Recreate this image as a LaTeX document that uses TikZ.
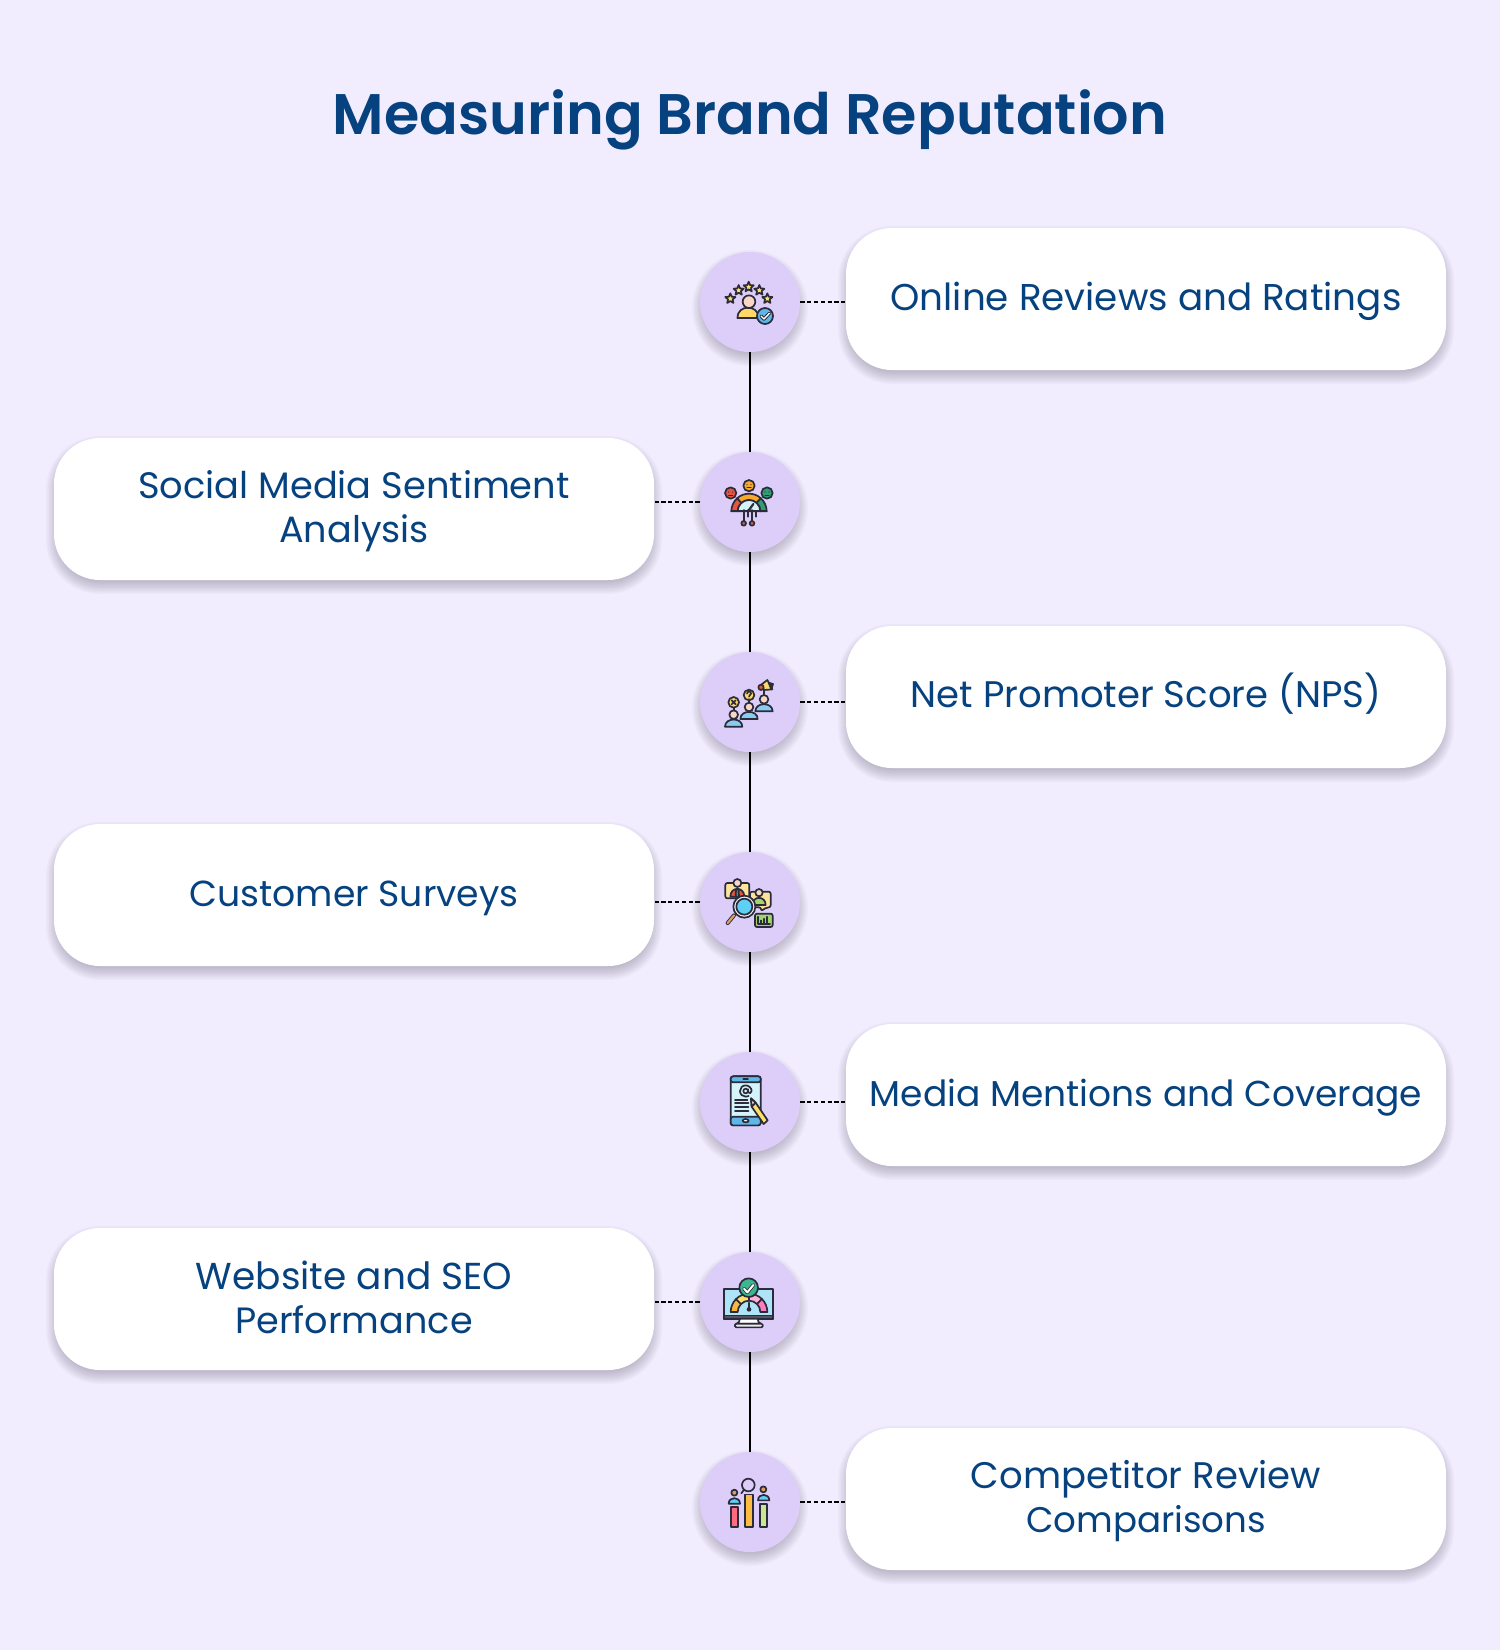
\documentclass[tikz,border=0pt]{standalone}
\usepackage{fontspec}
\setmainfont{Poppins}
\newfontfamily\labf{Poppins}
\newfontfamily\titf{Poppins SemiBold}
\definecolor{bgc}{HTML}{F1ECFE}
\definecolor{circ}{HTML}{DCCEF9}
\definecolor{ink}{HTML}{05427F}
\definecolor{shc}{HTML}{4A4258}
\definecolor{icd}{HTML}{2B2B3B}
\definecolor{pyel}{HTML}{FFD966}
\definecolor{pstar}{HTML}{FFE066}
\definecolor{pskin}{HTML}{F8D7C4}
\definecolor{pblue}{HTML}{5DB8E8}
\definecolor{pred}{HTML}{E8553F}
\definecolor{porg}{HTML}{F7A92B}
\definecolor{pgrn}{HTML}{2F9E72}
\definecolor{ppale}{HTML}{D5F3FA}
\definecolor{psky}{HTML}{88CCF2}
\definecolor{pcream}{HTML}{FFE39A}
\definecolor{plime}{HTML}{A4D46C}
\definecolor{pcyan}{HTML}{5FD0F5}
\definecolor{ptan}{HTML}{D9A066}
\definecolor{pteal}{HTML}{3DB58F}
\definecolor{ppink}{HTML}{FF7DBE}
\definecolor{prose}{HTML}{FF6B81}
\definecolor{ppist}{HTML}{C8E88C}
\definecolor{pscr}{HTML}{AEE4F8}
\tikzset{
  shadowlayer/.style={fill=shc,opacity=.035},
  cardbox/.style={fill=white,rounded corners=23pt,minimum width=300pt,minimum height=71pt,
    align=center,text=ink,font=\labf\fontsize{18.3}{22}\selectfont,inner sep=0pt},
  badge/.style={circle,fill=circ,minimum size=50pt,inner sep=0pt},
  spine/.style={draw=black,line width=1pt},
  dots/.style={draw=black,line width=1pt,dash pattern=on 2.1pt off 1.3pt},
  dotsup/.style={dots,yshift=.65pt},
  ic/.style={draw=icd,line width=.85pt,line join=round,line cap=round},
  izoom/.style={x=0.16667pt,y=-0.16667pt},
}
\newcommand{\sta}{\rule{0pt}{16.1pt}}
\newcommand{\stz}{\rule[-4pt]{0pt}{4pt}}
\newcommand{\stb}{\rule[-7pt]{0pt}{24pt}}
\newcommand{\fs}[1]{\fontsize{#1}{22}\selectfont}
\newcommand{\softcard}[2]{\foreach \k in {-4,-2.5,...,8}
  \fill[shadowlayer,rounded corners={(23+\k*.5)*1pt}] ({#1-300-\k},{#2-71-\k+6}) rectangle ({#1+300+\k},{#2+71+\k+6});}
\newcommand{\softdisc}[2]{\foreach \k in {-4,-2.5,...,8}
  \fill[shadowlayer] (#1,{#2+6}) circle ({50+\k});}
\newcommand{\icdisc}[4]{\draw[ic,fill=#4] (#1,#2) circle (#3);}
\newcommand{\icstar}[3]{\draw[ic,fill=pstar] ([shift={(#1,#2)}]-90:#3)
  \foreach \a/\r in {-54/.45,-18/1,18/.45,54/1,90/.45,126/1,162/.45,198/1,234/.45}{
    -- ([shift={(#1,#2)}]\a:\r*#3) } -- cycle;}
\newcommand{\icbody}[5]{\draw[ic,fill=#5] ({#1-#3},#2) .. controls ({#1-#3},{#2-1.3*#4}) and ({#1+#3},{#2-1.3*#4}) .. ({#1+#3},#2) -- cycle;}
\newcommand{\icsector}[7]{\draw[ic,fill=#7] ([shift={(#1,#2)}]#5:#3) arc[start angle=#5,end angle=#6,radius=#3]
  -- ([shift={(#1,#2)}]#6:#4) arc[start angle=#6,end angle=#5,radius=#4] -- cycle;}
\newcommand{\icface}[4]{\icdisc{#1}{#2}{#3}{#4}
  \fill[icd] ({#1-6},{#2-3}) circle (2) ({#1+6},{#2-3}) circle (2);
  \draw[ic,line width=.5pt] ({#1-6},{#2+6}) -- ({#1+6},{#2+6});}
\begin{document}
\begin{tikzpicture}[x=0.5pt,y=-0.5pt]
\useasboundingbox (0,0) rectangle (1500,1650);
\fill[bgc] (0,0) rectangle (1500,1650);
\node[text=ink,font=\titf\fontsize{28.6}{36}\selectfont,inner sep=0pt] (title) at (750,120) {Measuring Brand Reputation};
\softdisc{750}{302}\softdisc{750}{502}\softdisc{750}{702}\softdisc{750}{902}\softdisc{750}{1102}\softdisc{750}{1302}\softdisc{750}{1502}
\softcard{1146}{299}\softcard{354}{509}\softcard{1146}{697}\softcard{354}{895}\softcard{1146}{1095}\softcard{354}{1299}\softcard{1146}{1499}
\node[badge] (c1) at (750,302) {};
\node[badge] (c2) at (750,502) {};
\node[badge] (c3) at (750,702) {};
\node[badge] (c4) at (750,902) {};
\node[badge] (c5) at (750,1102) {};
\node[badge] (c6) at (750,1302) {};
\node[badge] (c7) at (750,1502) {};
\node[cardbox] (b1) at (1146,299) {\fs{18.65}\sta\stz Online Reviews and Ratings};
\node[cardbox] (b2) at (354,509) {\fs{18.4}\sta Social Media Sentiment\\\fs{18.3}\stz Analysis};
\node[cardbox] (b3) at (1146,697) {\fs{18.5}\stb Net Promoter Score (NPS)};
\node[cardbox] (b4) at (354,895) {\fs{18.1}\sta\stz Customer Surveys};
\node[cardbox] (b5) at (1146,1095) {\fs{18.0}\sta\stz Media Mentions and Coverage};
\node[cardbox] (b6) at (354,1299) {\fs{18.75}\sta Website and SEO\\\fs{18.3}\stz Performance};
\node[cardbox] (b7) at (1146,1499) {\fs{18.5}\sta Competitor Review\\\fs{17.8}\stz Comparisons};
\foreach \p/\q in {c1/c2,c2/c3,c3/c4,c4/c5,c5/c6,c6/c7}
  \draw[spine,xshift=.5pt] (\p.south) -- (\q.north);
\draw[dots] (c1.east) -- (b1.west |- c1.east);
\draw[dotsup] (c2.west) -- (b2.east |- c2.west);
\draw[dotsup] (c3.east) -- (b3.west |- c3.east);
\draw[dotsup] (c4.west) -- (b4.east |- c4.west);
\draw[dots] (c5.east) -- (b5.west |- c5.east);
\draw[dotsup] (c6.west) -- (b6.east |- c6.west);
\draw[dots] (c7.east) -- (b7.west |- c7.east);

% icon 1
\begin{scope}[shift={(690,240)},izoom]
\icstar{121}{176}{16}\icstar{146}{151}{16}\icstar{176}{141}{16}\icstar{208}{151}{16}\icstar{232}{176}{16}
\icbody{174}{234}{32}{32}{pyel}
\icdisc{177}{185}{19}{pskin}
\icdisc{225}{228}{24}{pblue}
\draw[draw=icd,line width=1.7pt,line cap=round,line join=round] (213,228) -- (222,237) -- (238,220);
\draw[draw=white,line width=.7pt,line cap=round,line join=round] (213,228) -- (222,237) -- (238,220);
\end{scope}
% icon 2
\begin{scope}[shift={(690,440)},izoom]
\icface{122}{159}{17}{pred}
\icface{177}{137}{17}{porg}
\icface{231}{159}{17}{pgrn}
\icsector{177}{214}{53}{34}{180}{228}{pred}
\icsector{177}{214}{53}{34}{228}{312}{porg}
\icsector{177}{214}{53}{34}{312}{360}{pgrn}
\draw[ic,fill=ppale] (143,214) arc[start angle=180,end angle=360,radius=34] -- cycle;
\draw[ic,line width=1.1pt] (177,210) -- (190,192);
\draw[ic] (124,214) -- (230,214);
\draw[ic] (161,210) -- (161,245) (186,210) -- (186,245) (173,210) -- (173,230) (198,214) -- (198,230);
\icdisc{161}{250}{7}{pred}
\icdisc{186}{250}{7}{pred}
\end{scope}
% icon 3
\begin{scope}[shift={(690,640)},izoom]
\foreach \x/\y in {222/178,177/201,131/224}{
  \icbody{\x}{\y+36}{26}{22}{psky}
  \icdisc{\x}{\y}{13}{pskin}
}
\draw[ic] (131,203) -- (131,211) (177,181) -- (177,188);
\icdisc{131}{187}{16}{pyel}
\draw[ic] (125,181) -- (137,193) (137,181) -- (125,193);
\icdisc{177}{165}{16}{pyel}
\draw[ic] (171,161) .. controls (172,152) and (184,153) .. (183,161) .. controls (182,166) and (177,165) .. (177,170);
\fill[icd] (177,175) circle (1.6);
\draw[ic,fill=pyel] (215,133) -- (232,120) -- (247,148) -- (222,150) -- cycle;
\icdisc{213}{142}{8}{pred}
\draw[ic,fill=icd] (236,128) -- (249,132) -- (244,148) -- cycle;
\draw[ic] (222,150) -- (222,165);
\end{scope}
% icon 4
\begin{scope}[shift={(690,840)},izoom]
\draw[ic,fill=pcream,rounded corners=1pt] (106,129) rectangle (178,175);
\icbody{142}{170}{21}{24}{pred}
\draw[ic,fill=pgrn] (138,148) -- (146,148) -- (147,170) -- (137,170) -- cycle;
\icdisc{142}{129}{12}{pskin}
\draw[ic,fill=pcream,rounded corners=1pt] (180,155) -- (242,155) -- (242,202) -- (230,202) -- (213,213) -- (213,202) -- (180,202) -- cycle;
\icbody{207}{195}{20}{22}{plime}
\icdisc{207}{158}{11}{pskin}
\draw[draw=icd,line width=2pt,line cap=round] (132,226) -- (113,249);
\draw[draw=ptan,line width=1.1pt,line cap=round] (132,226) -- (113,249);
\icdisc{163}{200}{33}{white!90!gray}
\icdisc{163}{200}{24}{pcyan}
\draw[ic,fill=plime,rounded corners=1pt] (195,221) rectangle (248,261);
\draw[ic] (204,230) -- (204,252) -- (240,252);
\draw[ic,line width=.6pt] (213,252) -- (213,241) (222,252) -- (222,236) (231,252) -- (231,230);
\end{scope}
% icon 5
\begin{scope}[shift={(690,1040)},izoom]
\draw[ic,fill=ppale,rounded corners=1.2pt] (122,109) rectangle (212,256);
\draw[ic,fill=pblue,rounded corners=1.2pt] (122,109) rectangle (212,127);
\draw[ic,fill=pblue,rounded corners=1.2pt] (122,230) rectangle (212,256);
\draw[ic] (160,118) -- (174,118);
\draw[ic,fill=white] (167,242) ellipse (9 and 5);
\draw[ic] (167,153) circle (7) (174,148) -- (174,156) .. controls (176,163) and (186,160) .. (185,152)
  .. controls (184,142) and (174,136) .. (167,136) .. controls (157,136) and (150,144) .. (150,153)
  .. controls (150,163) and (158,170) .. (167,170) -- (176,168);
\draw[ic,line width=.95pt] (135,179) -- (172,179) (135,190) -- (175,190) (135,201) -- (175,201) (135,212) -- (175,212);
\draw[ic,fill=pstar] (183,175) -- (197,188) -- (233,241) -- (221,252) -- (185,200) -- cycle;
\draw[ic,fill=pskin] (183,175) -- (197,188) -- (185,200) -- cycle;
\fill[icd] (183,175) -- (189,181) -- (184,186) -- cycle;
\end{scope}
% icon 6
\begin{scope}[shift={(690,1240)},izoom]
\draw[ic,fill=pscr] (103,146) rectangle (250,236);
\draw[ic,fill=icd!80] (103,226) rectangle (250,236);
\draw[ic,fill=white] (150,236) .. controls (150,245) and (145,248) .. (140,251) -- (212,251) .. controls (207,248) and (203,245) .. (203,236) -- cycle;
\draw[ic,fill=white!85!gray,rounded corners=.6pt] (135,251) rectangle (218,262);
\icsector{177}{216}{55}{34}{180}{225}{porg!70!pyel}
\icsector{177}{216}{55}{34}{225}{270}{pstar}
\icsector{177}{216}{55}{34}{270}{315}{ppink!60!white}
\icsector{177}{216}{55}{34}{315}{360}{ppink}
\draw[ic] (177,188) -- (177,205);
\fill[icd] (177,208) circle (7);
\icdisc{176}{143}{28}{pteal}
\draw[draw=icd,line width=1.8pt,line cap=round,line join=round] (162,146) -- (172,157) -- (190,135);
\draw[draw=white,line width=1pt,line cap=round,line join=round] (162,146) -- (172,157) -- (190,135);
\end{scope}
% icon 7
\begin{scope}[shift={(690,1440)},izoom]
\draw[ic,fill=prose] (122,201) rectangle (145,261);
\draw[ic,fill=porg!60!pyel] (166,163) rectangle (188,261);
\draw[ic,fill=ppist] (209,191) rectangle (232,261);
\icbody{133}{191}{17}{17}{pcyan}
\icdisc{133}{158}{9}{ptan}
\icbody{221}{181}{17}{17}{pcyan}
\icdisc{220}{148}{9}{ptan}
\draw[ic] (175,135) circle (19) (162,149) -- (154,160);
\end{scope}
\end{tikzpicture}
\end{document}
